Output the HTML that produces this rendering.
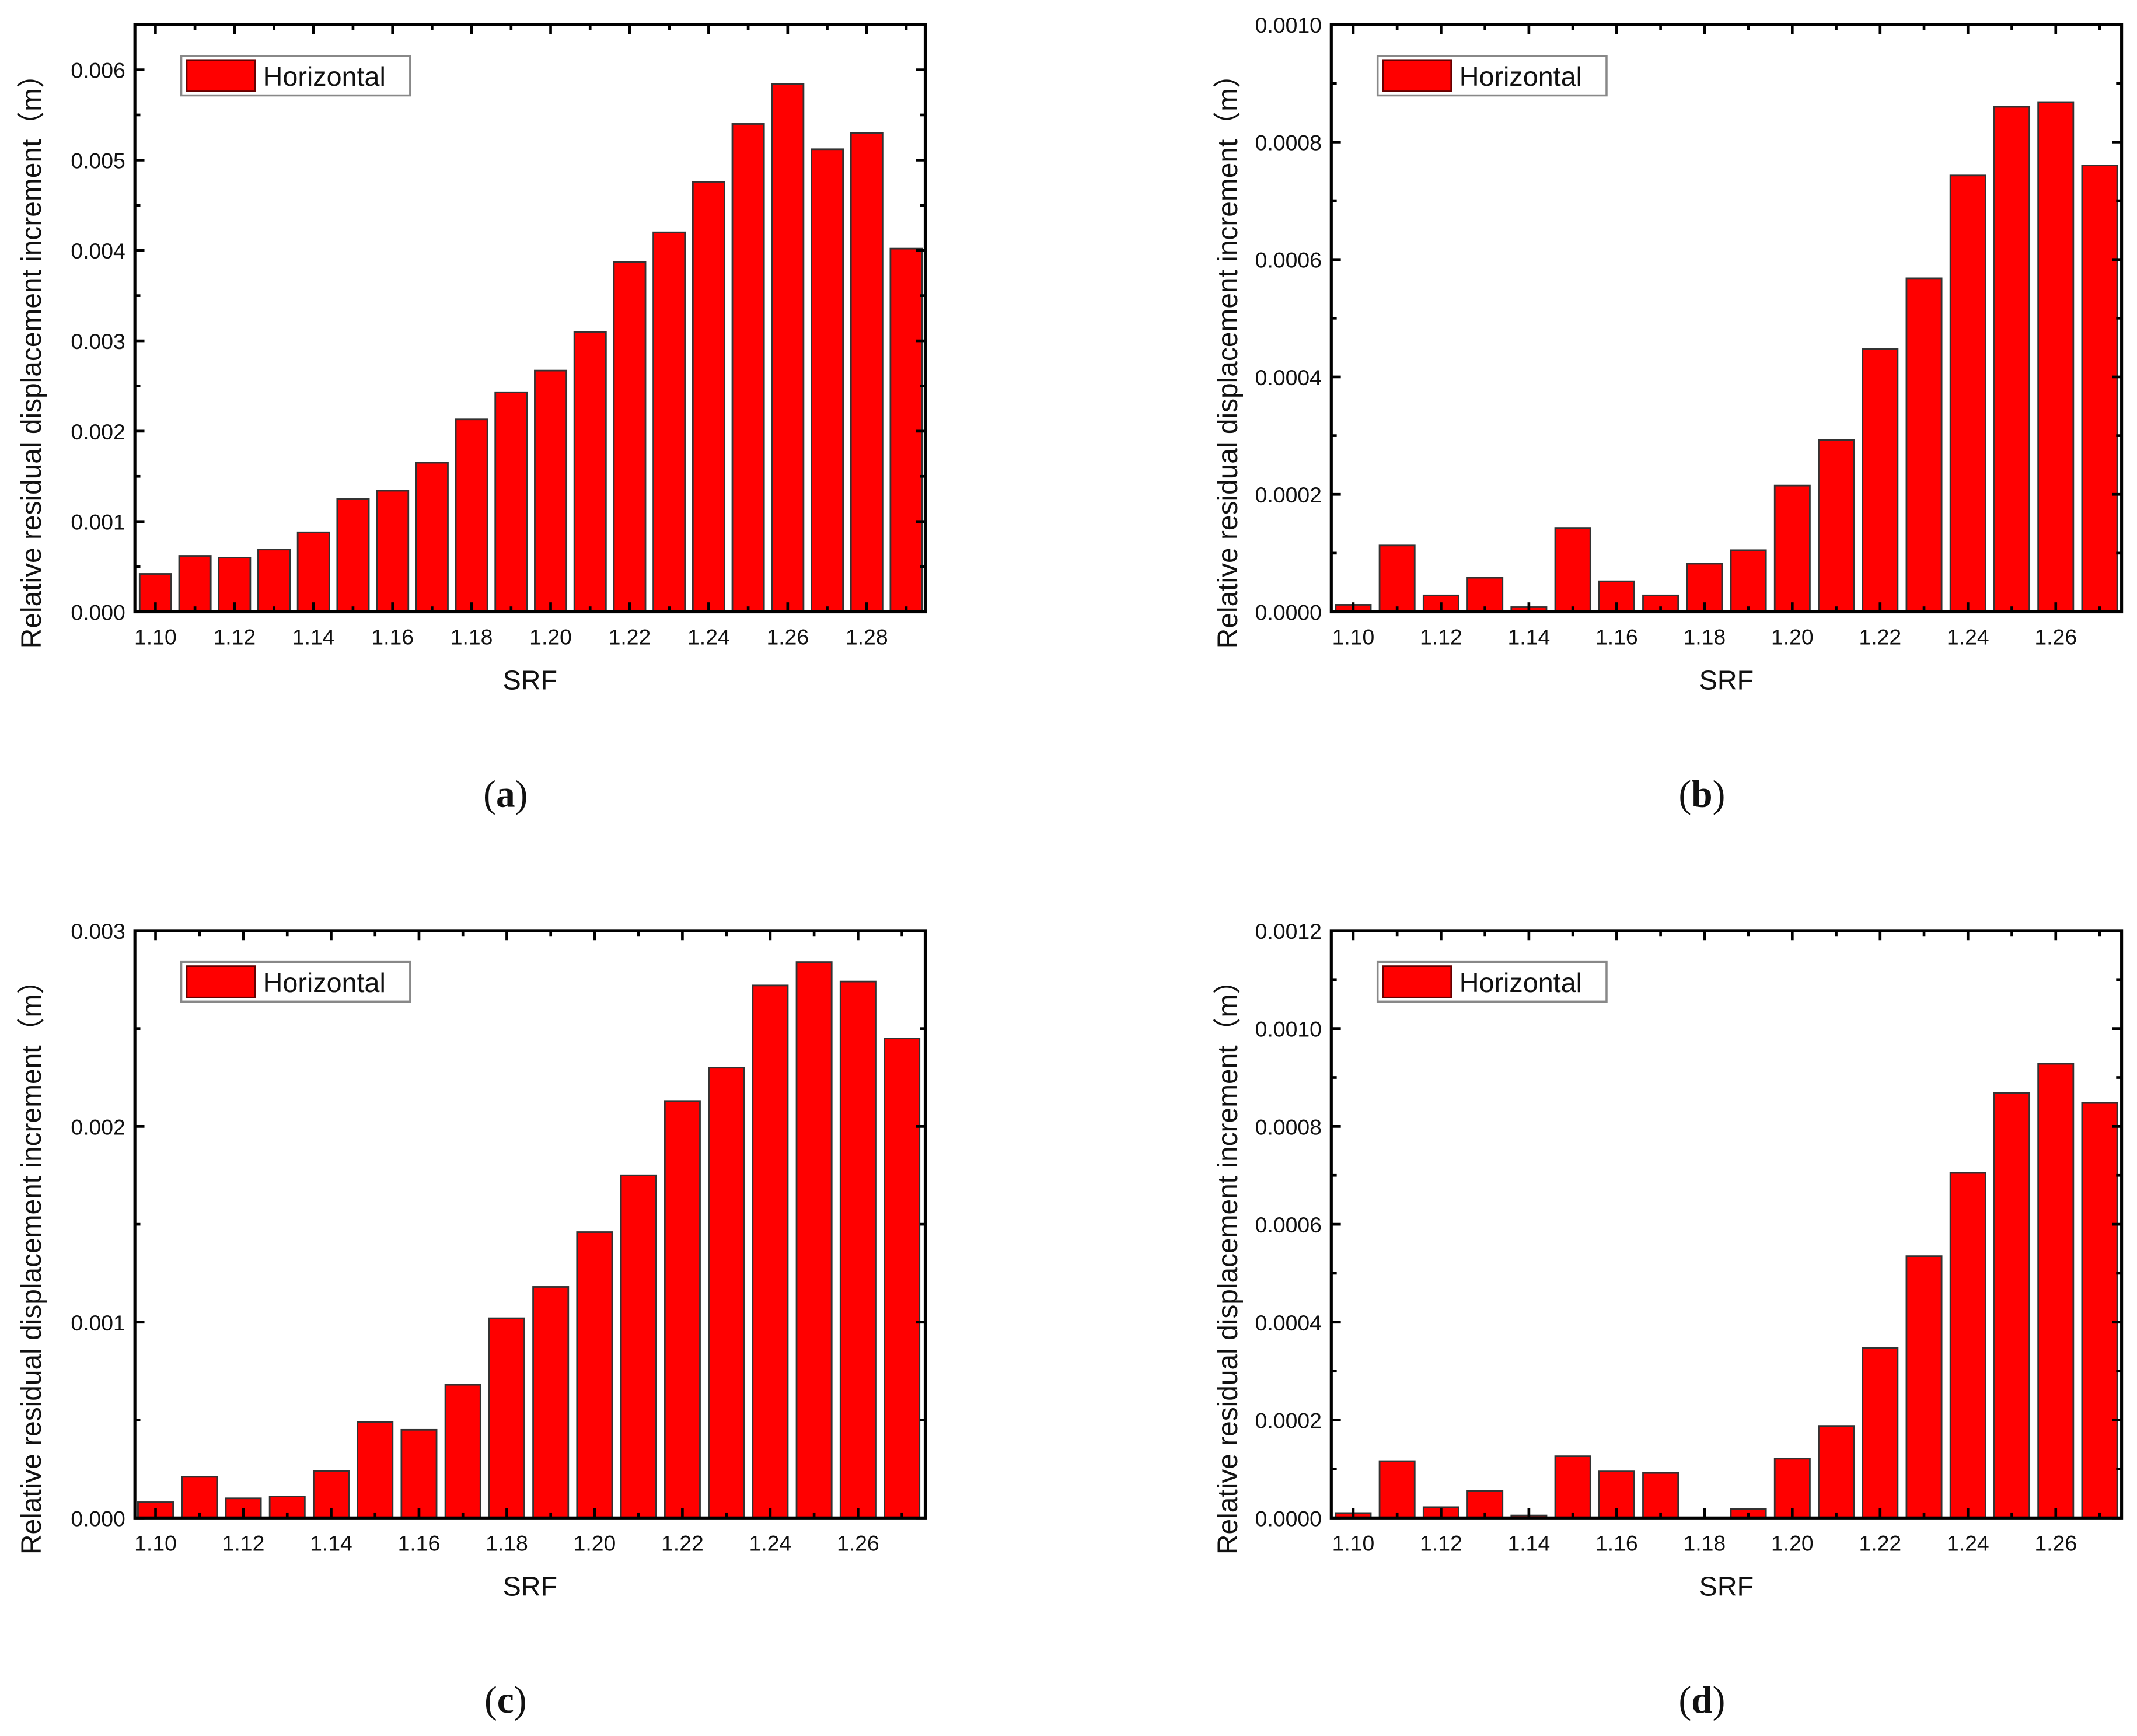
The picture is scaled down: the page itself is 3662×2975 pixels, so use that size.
<!DOCTYPE html>
<html><head><meta charset="utf-8"><style>
html,body{margin:0;padding:0;background:#fff;}
svg{display:block;}
text{font-family:"Liberation Sans","Noto Sans CJK SC",sans-serif;fill:#111;}
.cap{font-family:"Liberation Serif",serif;font-size:28px;}
</style></head><body>
<svg id="fig" width="3662" height="2975" viewBox="0 0 1568.3 1274" xmlns="http://www.w3.org/2000/svg"></svg>
<script>
const catsA = [1.10,1.11,1.12,1.13,1.14,1.15,1.16,1.17,1.18,1.19,1.20,1.21,1.22,1.23,1.24,1.25,1.26,1.27,1.28,1.29];
const valsA = [0.00042,0.00062,0.00060,0.00069,0.00088,0.00125,0.00134,0.00165,0.00213,0.00243,0.00267,0.00310,0.00387,0.00420,0.00476,0.00540,0.00584,0.00512,0.00530,0.00402];
const ticksXA = ["1.10","1.12","1.14","1.16","1.18","1.20","1.22","1.24","1.26","1.28"];
const ticksYA = ["0.000","0.001","0.002","0.003","0.004","0.005","0.006"];
const catsB = [1.10,1.11,1.12,1.13,1.14,1.15,1.16,1.17,1.18,1.19,1.20,1.21,1.22,1.23,1.24,1.25,1.26,1.27];
const valsB = [0.000012,0.000113,0.000028,0.000058,0.000008,0.000143,0.000052,0.000028,0.000082,0.000105,0.000215,0.000293,0.000448,0.000568,0.000743,0.000860,0.000868,0.000760];
const ticksXB = ["1.10","1.12","1.14","1.16","1.18","1.20","1.22","1.24","1.26"];
const ticksYB = ["0.0000","0.0002","0.0004","0.0006","0.0008","0.0010"];
const catsC = [1.10,1.11,1.12,1.13,1.14,1.15,1.16,1.17,1.18,1.19,1.20,1.21,1.22,1.23,1.24,1.25,1.26,1.27];
const valsC = [0.00008,0.00021,0.00010,0.00011,0.00024,0.00049,0.00045,0.00068,0.00102,0.00118,0.00146,0.00175,0.00213,0.00230,0.00272,0.00284,0.00274,0.00245];
const ticksXC = ["1.10","1.12","1.14","1.16","1.18","1.20","1.22","1.24","1.26"];
const ticksYC = ["0.000","0.001","0.002","0.003"];
const catsD = [1.10,1.11,1.12,1.13,1.14,1.15,1.16,1.17,1.18,1.19,1.20,1.21,1.22,1.23,1.24,1.25,1.26,1.27];
const valsD = [0.000010,0.000116,0.000022,0.000055,0.000005,0.000126,0.000095,0.000092,0.0,0.000018,0.000121,0.000188,0.000347,0.000535,0.000705,0.000868,0.000928,0.000848];
const ticksXD = ["1.10","1.12","1.14","1.16","1.18","1.20","1.22","1.24","1.26"];
const ticksYD = ["0.0000","0.0002","0.0004","0.0006","0.0008","0.0010","0.0012"];

const NS = "http://www.w3.org/2000/svg";
const svg = document.getElementById('fig');
function mk(tag, attrs, parent){
  const e = document.createElementNS(NS, tag);
  for (const k in attrs) e.setAttribute(k, attrs[k]);
  (parent||svg).appendChild(e);
  return e;
}

function panel(id, ox, oy, cats, vals, ticksX, ticksY, xmin, xmax, ymax, caption){
  const L = ox, R = ox + 580, T = oy, B = oy + 431;
  const g = mk('g', {});
  
  
  const sx = v => L + (v - xmin) / (xmax - xmin) * (R - L);
  const sy = v => B - v / ymax * (B - T);
  const band = 0.01;
  cats.forEach((c, i) => {
    const x0 = sx(c - band*0.4), x1 = sx(c + band*0.4);
    const y = sy(vals[i]);
    const r = mk('rect', {x:x0, y:y, width:x1-x0, height:Math.max(B-y,0), fill:'#ff0000', stroke:'#333', 'stroke-width':1.2}, g);
    
    
  });
  const ystep = parseFloat(ticksY[1]) - parseFloat(ticksY[0]);
  ticksY.forEach(t => {
    const v = parseFloat(t), y = sy(v);
    mk('line', {x1:L, x2:L+7, y1:y, y2:y, stroke:'#000','stroke-width':2}, g);
    mk('line', {x1:R, x2:R-7, y1:y, y2:y, stroke:'#000','stroke-width':2}, g);
    const tx = mk('text', {x:L-7, y:y+6, 'text-anchor':'end', 'font-size':16}, g);
    tx.textContent = t;
    
    
  });
  for (let v = ystep/2; v < ymax; v += ystep){
    const y = sy(v);
    mk('line', {x1:L, x2:L+4, y1:y, y2:y, stroke:'#000','stroke-width':2}, g);
    mk('line', {x1:R, x2:R-4, y1:y, y2:y, stroke:'#000','stroke-width':2}, g);
  }
  cats.forEach(c => {
    const x = sx(c);
    const major = ticksX.includes(c.toFixed(2));
    const len = major ? 7 : 4;
    mk('line', {x1:x, x2:x, y1:B, y2:B-len, stroke:'#000','stroke-width':2}, g);
    mk('line', {x1:x, x2:x, y1:T, y2:T+len, stroke:'#000','stroke-width':2}, g);
  });
  ticksX.forEach(t => {
    const tx = mk('text', {x:sx(parseFloat(t)), y:B+24, 'text-anchor':'middle', 'font-size':16}, g);
    tx.textContent = t;
    
    
  });
  mk('rect', {x:L, y:T, width:R-L, height:B-T, fill:'none', stroke:'#000', 'stroke-width':2.2}, g);
  const lg = mk('g', {}, g);
  
  
  mk('rect', {x:L+34, y:T+23, width:168, height:29, fill:'#fff', stroke:'#888', 'stroke-width':1.5}, lg);
  mk('rect', {x:L+38, y:T+26, width:50, height:23, fill:'#ff0000', stroke:'#600', 'stroke-width':1.2}, lg);
  const lt = mk('text', {x:L+94, y:T+45, 'font-size':20}, lg);
  lt.textContent = 'Horizontal';
  const xt = mk('text', {x:(L+R)/2, y:B+57, 'text-anchor':'middle', 'font-size':20}, g);
  xt.textContent = 'SRF';
  
  
  const yt = mk('text', {x:0, y:0, 'text-anchor':'middle', 'font-size':20.5, transform:'translate(' + (L-69) + ',' + (T+242) + ') rotate(-90)'}, g);
  yt.textContent = 'Relative residual displacement increment（m）';
  
  
  const cp = mk('text', {x:ox+272, y:oy+574, 'text-anchor':'middle', class:'cap'}, g);
  cp.innerHTML = '(<tspan font-weight="bold">' + caption + '</tspan>)';
  
  
}

panel('a', 99, 18, catsA, valsA, ticksXA, ticksYA, 1.0948, 1.2948, 0.0065, 'a');
panel('b', 977, 18, catsB, valsB, ticksXB, ticksYB, 1.095, 1.275, 0.0010, 'b');
panel('c', 99, 683, catsC, valsC, ticksXC, ticksYC, 1.0953, 1.2753, 0.0030, 'c');
panel('d', 977, 683, catsD, valsD, ticksXD, ticksYD, 1.095, 1.275, 0.0012, 'd');
</script>
</body></html>
